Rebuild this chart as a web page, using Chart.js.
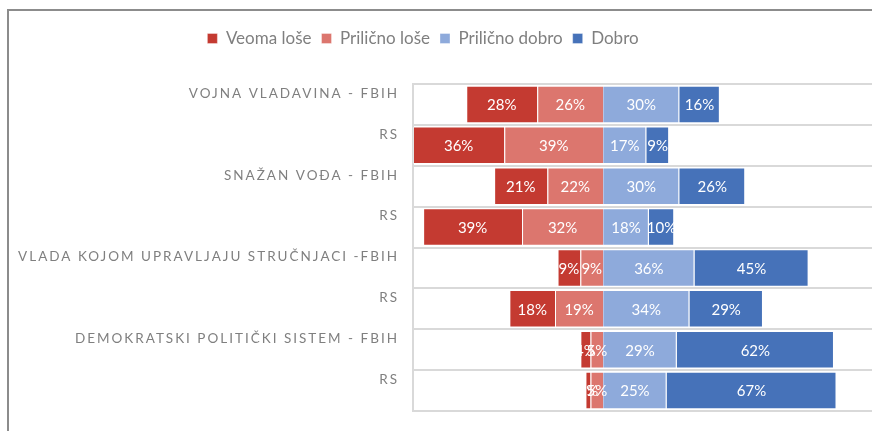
<!DOCTYPE html>
<html>
<head>
<meta charset="utf-8">
<script src="https://cdn.jsdelivr.net/npm/chart.js@4.4.1/dist/chart.umd.min.js"></script>
<style>
  html, body { margin: 0; padding: 0; background: #fff; }
  #wrap { position: relative; width: 872px; height: 431px; }
  #okvir { position: absolute; left: 7px; top: 9px; right: 0; bottom: 0;
           border-top: 2px solid #8c8c8c; border-left: 2px solid #8c8c8c; pointer-events: none; }
  canvas { position: absolute; left: 0; top: 0; }
</style>
</head>
<body>
<div id="wrap">
  <canvas id="myChart" width="872" height="431"></canvas>
  <div id="okvir"></div>
</div>
<script>
const kategorije = [
  "VOJNA VLADAVINA - FBIH", "RS",
  "SNAŽAN VOĐA - FBIH", "RS",
  "VLADA KOJOM UPRAVLJAJU STRUČNJACI -FBIH", "RS",
  "DEMOKRATSKI POLITIČKI SISTEM - FBIH", "RS"
];
const veomaLose = [28, 36, 21, 39, 9, 18, 4, 2];
const prilicnoLose = [26, 39, 22, 32, 9, 19, 5, 5];
const prilicnoDobro = [30, 17, 30, 18, 36, 34, 29, 25];
const dobro = [16, 9, 26, 10, 45, 29, 62, 67];

const font = "Lato, 'Open Sans', sans-serif";

// negativne vrijednosti idu lijevo od nule
const neg = (arr) => arr.map((v) => -v);

// natpisi kategorija sa razmakom izmedju slova
const kategorijePlugin = {
  id: "kategorije",
  afterDraw(chart) {
    const ctx = chart.ctx;
    const y = chart.scales.y;
    ctx.save();
    ctx.font = "13.5px " + font;
    ctx.fillStyle = "#7f7f7f";
    ctx.textAlign = "right";
    ctx.textBaseline = "middle";
    ctx.letterSpacing = "2px";
    kategorije.forEach((k, i) => {
      ctx.fillText(k, chart.chartArea.left - 14, y.getPixelForValue(i) - 11);
    });
    ctx.restore();
  }
};

// procenti u sredini svakog segmenta
const procentiPlugin = {
  id: "procenti",
  afterDatasetsDraw(chart) {
    const ctx = chart.ctx;
    ctx.save();
    ctx.font = "15px " + font;
    ctx.fillStyle = "#ffffff";
    ctx.textAlign = "center";
    ctx.textBaseline = "middle";
    chart.data.datasets.forEach((ds, di) => {
      const meta = chart.getDatasetMeta(di);
      meta.data.forEach((bar, i) => {
        const p = bar.getCenterPoint();
        ctx.fillText(Math.abs(ds.data[i]) + "%", p.x, p.y + 1);
      });
    });
    ctx.restore();
  }
};

// vise prostora ispod legende i malo pomjerena ulijevo
const legendaPlugin = {
  id: "legendaRazmak",
  beforeLayout(chart) {
    const leg = chart.legend;
    if (leg && !leg._prosireno) {
      const fit = leg.fit;
      leg.fit = function () {
        fit.call(this);
        this.height += 27;
      };
      leg._prosireno = true;
    }
  },
  afterLayout(chart) {
    if (chart.legend) chart.legend.right -= 26;
  }
};

const datasets = [
  { label: "Veoma loše", data: neg(veomaLose), backgroundColor: "#c43a31", order: 1 },
  { label: "Prilično loše", data: neg(prilicnoLose), backgroundColor: "#dc766e", order: 0 },
  { label: "Prilično dobro", data: prilicnoDobro, backgroundColor: "#8eaadb", order: 2 },
  { label: "Dobro", data: dobro, backgroundColor: "#4672b9", order: 3 }
];
datasets.forEach((d) => {
  d.borderColor = "rgba(255,255,255,0.35)";
  d.borderWidth = 1;
  d.barPercentage = 0.92;
  d.categoryPercentage = 1;
});

const myChart = document.getElementById("myChart");
const chart = new Chart(myChart, {
  type: "bar",
  data: { labels: kategorije, datasets },
  options: {
    indexAxis: "y",
    responsive: false,
    animation: false,
    layout: { padding: { top: 20, right: 0, bottom: 20, left: 0 } },
    scales: {
      x: {
        stacked: true,
        min: -75,
        max: 106,
        display: false
      },
      y: {
        stacked: true,
        ticks: { display: false },
        grid: { color: "#d9d9d9", lineWidth: 2, drawTicks: false, offset: true },
        border: { color: "#d9d9d9", width: 2 },
        afterFit(scale) { scale.width = 413; }
      }
    },
    plugins: {
      tooltip: { enabled: false },
      legend: {
        position: "top",
        labels: {
          boxWidth: 10,
          boxHeight: 10,
          padding: 10,
          color: "#7f7f7f",
          font: { family: font, size: 17 },
          sort: (a, b) => a.datasetIndex - b.datasetIndex
        }
      }
    }
  },
  plugins: [kategorijePlugin, procentiPlugin, legendaPlugin]
});
</script>
</body>
</html>
